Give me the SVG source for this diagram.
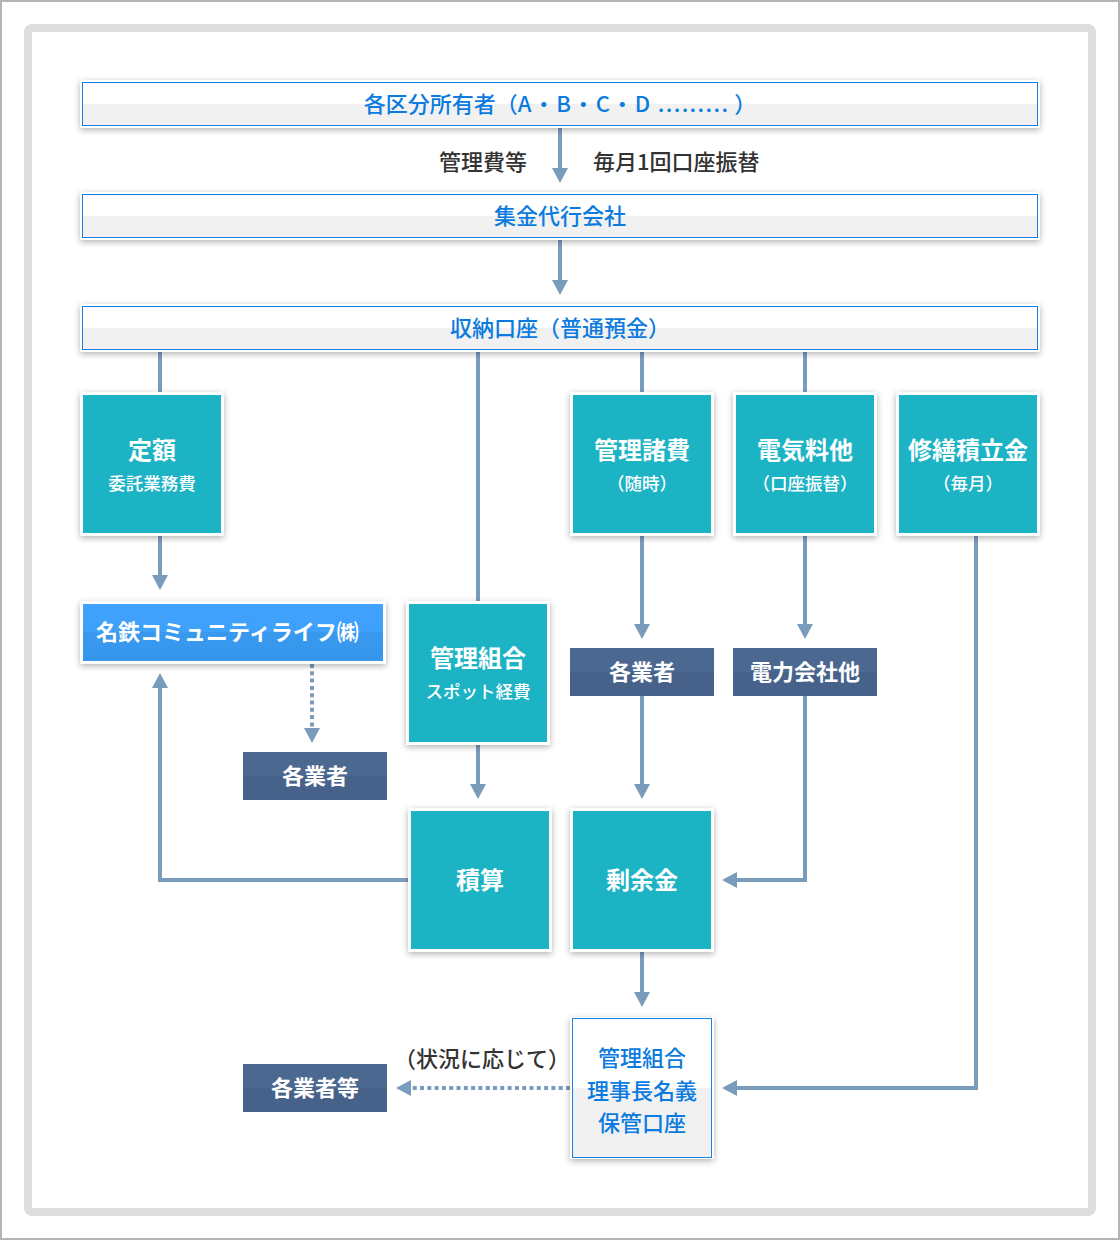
<svg xmlns="http://www.w3.org/2000/svg" width="1120" height="1240" viewBox="0 0 1120 1240">
<defs>
<style>
text{font-family:"Noto Sans CJK JP","Noto Sans",sans-serif;dominant-baseline:central;text-anchor:middle}
.bt{fill:#0b7be0;font-size:22px;font-weight:500}
.lbl{fill:#333;font-size:22px;font-weight:500}
.tt{fill:#fff;font-size:24px;font-weight:700}
.ts{fill:#fff;font-size:17.5px;font-weight:500}
.dt{fill:#fff;font-size:22px;font-weight:700}
.teal{fill:#1cb3c4;stroke:#fff;stroke-width:3;filter:url(#sh)}
.dark{fill:url(#gd)}
.bar{fill:url(#gb);stroke:#1a7fe6;stroke-width:1}
.barw{fill:#fff;filter:url(#sh)}
.con{fill:none;stroke:#7a9cbc;stroke-width:4;marker-end:url(#ah)}
.line{fill:none;stroke:#7a9cbc;stroke-width:4}
.dot{fill:none;stroke:#7a9cbc;stroke-width:4;stroke-dasharray:4 3.3;marker-end:url(#ah)}
</style>
<filter id="sh" x="-20%" y="-30%" width="140%" height="160%">
<feDropShadow dx="0" dy="2" stdDeviation="3" flood-color="#000" flood-opacity="0.3"/>
</filter>
<linearGradient id="gb" x1="0" y1="0" x2="0" y2="1">
<stop offset="0" stop-color="#fff"/><stop offset="0.5" stop-color="#fff"/><stop offset="0.5" stop-color="#f1f1f1"/><stop offset="1" stop-color="#f1f1f1"/>
</linearGradient>
<linearGradient id="gd" x1="0" y1="0" x2="0" y2="1">
<stop offset="0" stop-color="#4b6890"/><stop offset="0.5" stop-color="#4b6890"/><stop offset="0.5" stop-color="#46628a"/><stop offset="1" stop-color="#46628a"/>
</linearGradient>
<linearGradient id="gm" x1="0" y1="0" x2="0" y2="1">
<stop offset="0" stop-color="#40a3fe"/><stop offset="0.5" stop-color="#3ea0fa"/><stop offset="0.5" stop-color="#3899ef"/><stop offset="1" stop-color="#3596eb"/>
</linearGradient>
<marker id="ah" markerUnits="userSpaceOnUse" markerWidth="16" markerHeight="16" refX="3" refY="8" orient="auto">
<path d="M0,0 L15,8 L0,16 Z" fill="#7a9cbc"/>
</marker>
</defs>
<rect x="1" y="1" width="1118" height="1238" fill="#fff" stroke="#b4b4b4" stroke-width="2"/>
<rect x="28" y="28" width="1064" height="1184" rx="4" fill="#fff" stroke="#dddddd" stroke-width="8"/>

<g id="connectors">
<path class="con" d="M560,126 V171"/>
<path class="con" d="M560,238 V283"/>
<path class="line" d="M160,350 V394"/>
<path class="line" d="M478,350 V602"/>
<path class="line" d="M642,350 V394"/>
<path class="line" d="M805,350 V394"/>
<path class="con" d="M160,536 V578"/>
<path class="con" d="M642,536 V627"/>
<path class="con" d="M805,536 V627"/>
<path class="dot" d="M312,664 V731"/>
<path class="con" d="M478,744 V787"/>
<path class="con" d="M642,696 V787"/>
<path class="con" d="M805,696 V880 H734"/>
<path class="con" d="M408,880 H160 V685"/>
<path class="con" d="M642,952 V995"/>
<path class="con" d="M976,536 V1088 H734"/>
<path class="dot" d="M570,1088 H408"/>
</g>
<text class="lbl" x="527" y="159.5" style="text-anchor:end">管理費等</text>
<text class="lbl" x="593" y="159.5" style="text-anchor:start">毎月1回口座振替</text>
<text class="lbl" x="482" y="1056.5">（状況に応じて）</text>

<g id="owners">
<rect class="barw" x="80" y="80" width="960" height="48"/>
<rect class="bar" x="82.5" y="82.5" width="955" height="43"/>
<text class="bt" x="560" y="101.5">各区分所有者（<tspan letter-spacing="1.4">A・B・C・D .........</tspan> ）</text>
</g>
<g id="collector">
<rect class="barw" x="80" y="192" width="960" height="48"/>
<rect class="bar" x="82.5" y="194.5" width="955" height="43"/>
<text class="bt" x="560" y="213.5">集金代行会社</text>
</g>
<g id="account">
<rect class="barw" x="80" y="304" width="960" height="48"/>
<rect class="bar" x="82.5" y="306.5" width="955" height="43"/>
<text class="bt" x="560" y="325.5">収納口座（普通預金）</text>
</g>

<g id="teigaku">
<rect class="teal" x="81.5" y="393.5" width="141" height="141"/>
<text class="tt" x="152" y="448.5">定額</text>
<text class="ts" x="152" y="482.5">委託業務費</text>
</g>
<g id="kanri-shohi">
<rect class="teal" x="571.5" y="393.5" width="141" height="141"/>
<text class="tt" x="642" y="448.5">管理諸費</text>
<text class="ts" x="642" y="482.5">（随時）</text>
</g>
<g id="denki">
<rect class="teal" x="734.5" y="393.5" width="141" height="141"/>
<text class="tt" x="805" y="448.5">電気料他</text>
<text class="ts" x="805" y="482.5">（口座振替）</text>
</g>
<g id="shuzen">
<rect class="teal" x="897.5" y="393.5" width="141" height="141"/>
<text class="tt" x="968" y="448.5">修繕積立金</text>
<text class="ts" x="968" y="482.5">（毎月）</text>
</g>

<g id="meitetsu">
<rect x="81.5" y="602.5" width="303" height="60" fill="url(#gm)" stroke="#fff" stroke-width="3" filter="url(#sh)"/>
<text class="dt" x="96" y="630" style="text-anchor:start">名鉄コミュニティライフ㈱</text>
</g>
<g id="spot">
<rect class="teal" x="407.5" y="602.5" width="141" height="141"/>
<text class="tt" x="478" y="656.5">管理組合</text>
<text class="ts" x="478" y="690.5">スポット経費</text>
</g>
<g id="gyosha1">
<rect class="dark" x="243" y="752" width="144" height="48"/>
<text class="dt" x="315" y="774">各業者</text>
</g>
<g id="gyosha2">
<rect class="dark" x="570" y="648" width="144" height="48"/>
<text class="dt" x="642" y="670">各業者</text>
</g>
<g id="denryoku">
<rect class="dark" x="733" y="648" width="144" height="48"/>
<text class="dt" x="805" y="670">電力会社他</text>
</g>
<g id="sekisan">
<rect class="teal" x="409.5" y="809.5" width="141" height="141"/>
<text class="tt" x="480" y="878.5">積算</text>
</g>
<g id="joyokin">
<rect class="teal" x="571.5" y="809.5" width="141" height="141"/>
<text class="tt" x="642" y="878.5">剰余金</text>
</g>
<g id="hokan">
<rect class="barw" x="570" y="1017" width="144" height="142"/>
<rect class="bar" x="572.5" y="1018.5" width="139" height="139"/>
<text class="bt" x="642" y="1055.5">管理組合</text>
<text class="bt" x="642" y="1088.5">理事長名義</text>
<text class="bt" x="642" y="1120.5">保管口座</text>
</g>
<g id="gyosha3">
<rect class="dark" x="243" y="1064" width="144" height="48"/>
<text class="dt" x="315" y="1086">各業者等</text>
</g>
</svg>
